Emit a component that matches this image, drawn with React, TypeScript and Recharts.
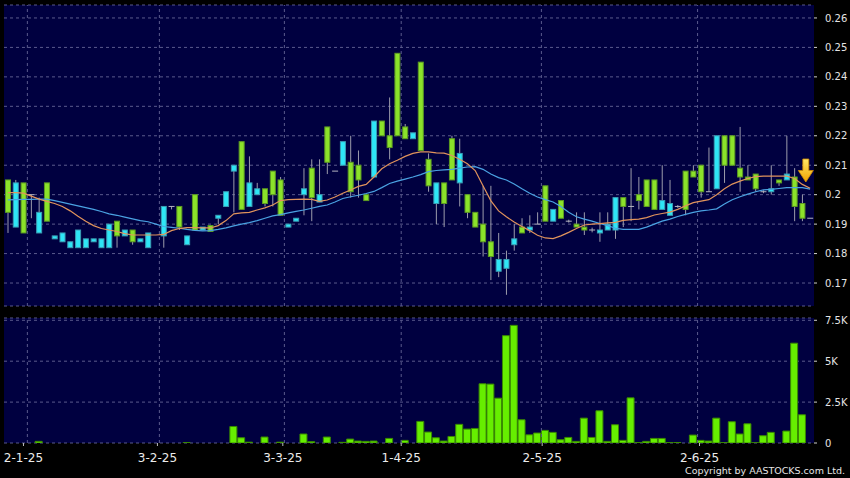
import React from 'react';
import {
  ComposedChart,
  Bar,
  Line,
  XAxis,
  YAxis,
  CartesianGrid,
  ReferenceLine,
  ReferenceDot,
} from 'recharts';

// ---- data ----
const dateLabels = ['2-1-25', '3-2-25', '3-3-25', '1-4-25', '2-5-25', '2-6-25'];
const dateLabelPos = [2.0, 19.2, 35.3, 50.5, 68.6, 88.8];
const dateGridPos = [2.5, 19.45, 35.5, 50.5, 68.5, 88.55];

const opens: (number | null)[] = [
  0.205, 0.189, 0.204, 0.2, 0.187, 0.204, 0.185, 0.184, 0.182, 0.182,
  0.182, 0.184, 0.182, 0.182, 0.191, 0.186, 0.188, 0.184, 0.182, null,
  0.186, 0.196, 0.196, 0.183, 0.2, 0.188, 0.1895, 0.192, 0.196, 0.208,
  0.218, 0.196, 0.2, 0.202, 0.208, 0.205, 0.189, 0.191, 0.2, 0.209,
  0.1975, 0.223, 0.208, 0.21, 0.211, 0.21, 0.2, 0.206, 0.225, 0.22,
  0.248, 0.223, 0.219, 0.245, 0.212, 0.197, 0.204, 0.219, 0.204, 0.2,
  0.194, 0.19, 0.184, 0.174, 0.175, 0.183, 0.189, 0.188, 0.19, 0.203,
  0.191, 0.198, 0.191, 0.19, 0.189, 0.188, 0.187, 0.188, 0.188, 0.199,
  0.196, 0.2, 0.205, 0.205, 0.195, 0.193, 0.196, 0.208, 0.208, 0.21,
  0.201, 0.202, 0.22, 0.22, 0.209, 0.206, 0.207, 0.201, 0.201, 0.205,
  0.205, 0.206, 0.197, 0.192,
];
const highs: (number | null)[] = [
  0.205, 0.205, 0.204, 0.2, 0.199, 0.204, 0.186, 0.187, 0.184, 0.188,
  0.185, 0.185, 0.185, 0.19, 0.191, 0.188, 0.188, 0.185, 0.187, null,
  0.196, 0.196, 0.196, 0.186, 0.2, 0.189, 0.1895, 0.193, 0.201, 0.21,
  0.218, 0.213, 0.204, 0.202, 0.208, 0.206, 0.19, 0.192, 0.209, 0.212,
  0.212, 0.223, 0.208, 0.218, 0.22, 0.215, 0.2, 0.225, 0.225, 0.233,
  0.248, 0.224, 0.221, 0.245, 0.214, 0.204, 0.204, 0.22, 0.219, 0.2,
  0.194, 0.203, 0.203, 0.187, 0.181, 0.19, 0.192, 0.193, 0.194, 0.203,
  0.195, 0.198, 0.1915, 0.194, 0.194, 0.1888, 0.194, 0.194, 0.199, 0.199,
  0.209, 0.206, 0.205, 0.205, 0.21, 0.205, 0.1965, 0.208, 0.21, 0.21,
  0.216, 0.22, 0.22, 0.22, 0.223, 0.21, 0.207, 0.2015, 0.21, 0.205,
  0.22, 0.209, 0.2, 0.192,
];
const lows: (number | null)[] = [
  0.187, 0.189, 0.187, 0.192, 0.187, 0.191, 0.185, 0.184, 0.182, 0.182,
  0.182, 0.184, 0.182, 0.182, 0.182, 0.186, 0.183, 0.184, 0.182, null,
  0.182, 0.195, 0.188, 0.183, 0.188, 0.188, 0.1875, 0.19, 0.196, 0.194,
  0.195, 0.196, 0.2, 0.196, 0.196, 0.193, 0.189, 0.191, 0.193, 0.191,
  0.1975, 0.207, 0.208, 0.21, 0.199, 0.199, 0.198, 0.206, 0.22, 0.212,
  0.22, 0.219, 0.219, 0.215, 0.201, 0.19, 0.189, 0.205, 0.196, 0.192,
  0.189, 0.179, 0.171, 0.172, 0.166, 0.181, 0.187, 0.187, 0.19, 0.191,
  0.191, 0.192, 0.1905, 0.189, 0.1863, 0.1872, 0.184, 0.188, 0.185, 0.189,
  0.191, 0.195, 0.196, 0.195, 0.195, 0.193, 0.1955, 0.193, 0.206, 0.199,
  0.201, 0.202, 0.204, 0.21, 0.201, 0.205, 0.201, 0.2005, 0.2, 0.203,
  0.205, 0.191, 0.191, 0.192,
];
const closes: (number | null)[] = [
  0.194, 0.204, 0.187, 0.2, 0.194, 0.191, 0.186, 0.187, 0.184, 0.188,
  0.185, 0.185, 0.185, 0.19, 0.186, 0.188, 0.184, 0.185, 0.187, null,
  0.196, 0.196, 0.189, 0.186, 0.188, 0.189, 0.1875, 0.193, 0.201, 0.21,
  0.195, 0.204, 0.202, 0.197, 0.2, 0.193, 0.19, 0.192, 0.202, 0.199,
  0.2, 0.211, 0.208, 0.218, 0.201, 0.205, 0.198, 0.225, 0.22, 0.216,
  0.22, 0.219, 0.221, 0.215, 0.203, 0.204, 0.197, 0.205, 0.214, 0.194,
  0.189, 0.184, 0.179, 0.178, 0.178, 0.185, 0.187, 0.189, 0.19, 0.191,
  0.195, 0.192, 0.191, 0.189, 0.188, 0.188, 0.188, 0.19, 0.199, 0.196,
  0.196, 0.198, 0.196, 0.195, 0.198, 0.197, 0.196, 0.195, 0.206, 0.201,
  0.201, 0.22, 0.21, 0.21, 0.206, 0.205, 0.202, 0.201, 0.202, 0.204,
  0.207, 0.196, 0.192, 0.192,
];
const maShort: number[] = [
  0.2007, 0.2007, 0.2005, 0.1995, 0.1985, 0.1977, 0.197, 0.196, 0.1945, 0.1927,
  0.191, 0.1895, 0.1885, 0.188, 0.1875, 0.1868, 0.1863, 0.1863, 0.1863, 0.1863,
  0.1865, 0.1878, 0.1885, 0.1888, 0.1888, 0.1887, 0.1887, 0.1895, 0.1912, 0.1935,
  0.1938, 0.194, 0.1948, 0.1955, 0.1965, 0.198, 0.1983, 0.1984, 0.1985, 0.1984,
  0.1977, 0.1982, 0.1992, 0.2005, 0.2016, 0.2028, 0.2035, 0.206, 0.2088, 0.2105,
  0.2117, 0.213, 0.214, 0.2145, 0.2145, 0.2142, 0.2141, 0.2133, 0.212, 0.2105,
  0.2082, 0.203, 0.198, 0.1945, 0.1925, 0.1907, 0.1892, 0.1878, 0.1862, 0.1853,
  0.1851, 0.186, 0.1872, 0.1885, 0.1897, 0.19, 0.1902, 0.1904, 0.1906, 0.1913,
  0.1915, 0.1917, 0.1922, 0.1931, 0.1936, 0.1941, 0.195, 0.1962, 0.1973, 0.1978,
  0.1983, 0.2, 0.202, 0.2036, 0.2046, 0.2055, 0.2061, 0.2063, 0.2063, 0.2063,
  0.2063, 0.2055, 0.2035, 0.2022,
];
const maLong: number[] = [
  0.1982, 0.1983, 0.1984, 0.1984, 0.1985, 0.1985, 0.198, 0.1974, 0.1968, 0.1962,
  0.1956, 0.195, 0.1943, 0.1935, 0.193, 0.1924, 0.1918, 0.1912, 0.1908, 0.19,
  0.1892, 0.1889, 0.1886, 0.1882, 0.1879, 0.1877, 0.1878, 0.1882, 0.1887, 0.1894,
  0.19, 0.1905, 0.1912, 0.192, 0.1928, 0.1932, 0.1938, 0.1943, 0.1948, 0.1954,
  0.196, 0.1965, 0.1975, 0.1987, 0.1993, 0.1998, 0.2004, 0.2011, 0.2024, 0.2038,
  0.2046, 0.2053, 0.206, 0.2068, 0.2078, 0.2082, 0.2084, 0.2086, 0.209, 0.2094,
  0.2095, 0.2086, 0.207, 0.2058, 0.205, 0.2036, 0.202, 0.2005, 0.1992, 0.1983,
  0.1975, 0.196, 0.194, 0.1925, 0.1917, 0.191, 0.1902, 0.1895, 0.1886, 0.1882,
  0.1882, 0.1882, 0.189, 0.19, 0.191, 0.1917, 0.1926, 0.1933, 0.194, 0.1945,
  0.1948, 0.1952, 0.1968, 0.1983, 0.1993, 0.2002, 0.201, 0.2016, 0.2018, 0.2021,
  0.2024, 0.2024, 0.2024, 0.2019,
];
const volumes: number[] = [
  0, 0, 0, 0, 100, 0, 0, 0, 0, 0,
  0, 0, 0, 0, 0, 0, 0, 0, 0, 0,
  0, 0, 0, 20, 0, 0, 0, 0, 0, 1010,
  320, 50, 0, 365, 0, 50, 0, 0, 550, 80,
  0, 365, 0, 40, 240, 120, 100, 120, 0, 280,
  0, 160, 0, 1320, 670, 320, 120, 400, 1140, 850,
  890, 3620, 3600, 2740, 6560, 7190, 1420, 500, 610, 770,
  650, 200, 340, 100, 1520, 340, 1970, 100, 1115, 160,
  2760, 20, 100, 280, 280, 20, 30, 0, 485, 160,
  120, 1520, 20, 1300, 550, 1175, 10, 445, 650, 0,
  730, 6100, 1725, 0,
];

const priceTicks = [0.17, 0.18, 0.19, 0.2, 0.21, 0.22, 0.23, 0.24, 0.25, 0.26];
const volTicks = [0, 2500, 5000, 7500];
const lastArrow = { x: 102.45, y: 0.2043 };

// ---- settings ----
const Y_MIN = 0.1622;
const Y_MAX = 0.2644;
const V_MAX = 7640;
const FONT = 'DejaVu Sans';
const PLOT_BG = '#000040';
const GRID = '#5a5a8c';
const GREEN = '#8be22a';
const GREEN_EDGE = '#5c9a22';
const CYAN = '#2ee6f6';
const CYAN_EDGE = '#3a9db4';
const WICK = '#9c9cab';

const data = opens.map((o, i) => ({
  i,
  o,
  h: highs[i],
  l: lows[i],
  c: closes[i],
  maS: maShort[i],
  maL: maLong[i],
  vol: volumes[i],
}));

const Candle = (props: any) => {
  const { x, y, width, height, payload } = props;
  if (!payload || payload.h == null || !height || height <= 0) return <g />;
  const k = height / (payload.h - Y_MIN);
  const py = (p: number) => y + (payload.h - p) * k;
  const cx = x + width / 2;
  const o = payload.o as number;
  const c = payload.c as number;
  const top = py(Math.max(o, c));
  const bot = py(Math.min(o, c));
  const wick = (
    <line x1={cx} x2={cx} y1={py(payload.h)} y2={py(payload.l)} stroke={WICK} strokeWidth={1} />
  );
  if (o === c) {
    return (
      <g>
        {wick}
        <line x1={x} x2={x + width} y1={top} y2={top} stroke="#b4b4c0" strokeWidth={1} />
      </g>
    );
  }
  const up = c > o;
  return (
    <g>
      {wick}
      <rect
        x={x + 0.5}
        y={top}
        width={width - 1}
        height={Math.max(bot - top, 1)}
        fill={up ? CYAN : GREEN}
        stroke={up ? CYAN_EDGE : GREEN_EDGE}
        strokeWidth={1}
      />
    </g>
  );
};

const Arrow = (props: any) => {
  const { cx, cy } = props;
  if (cx == null || cy == null) return <g />;
  return (
    <g>
      <defs>
        <linearGradient id="arrowGrad" x1="0" y1="0" x2="0" y2="1">
          <stop offset="0" stopColor="#ffe866" />
          <stop offset="1" stopColor="#f2a200" />
        </linearGradient>
      </defs>
      <path
        d={`M${cx - 3} ${cy - 23} H${cx + 3} V${cy - 11.5} H${cx + 7.5} L${cx} ${cy} L${cx - 7.5} ${cy - 11.5} H${cx - 3} Z`}
        fill="url(#arrowGrad)"
        stroke="#d08a00"
        strokeWidth={0.8}
      />
    </g>
  );
};

const fmtPrice = (v: number) => String(Number(v.toFixed(2)));
const fmtVol = (v: number) => (v === 0 ? '0' : `${v / 1000}K`);
const fmtDate = (v: number) => {
  const idx = dateLabelPos.indexOf(v);
  return idx >= 0 ? dateLabels[idx] : '';
};

const yTickStyle = { fill: '#e4e4e4', fontSize: 10, fontFamily: FONT };
const yTickLine = { stroke: '#cfcfcf', strokeDasharray: '0 4 3 40' };

export default function App() {
  return (
    <div
      style={{
        position: 'fixed',
        left: 0,
        top: 0,
        width: 850,
        height: 478,
        background: '#000000',
        overflow: 'hidden',
        fontFamily: FONT,
      }}
    >
      <div style={{ position: 'absolute', left: 0, top: 0 }}>
        <ComposedChart
          width={850}
          height={310}
          data={data}
          margin={{ top: 5, right: 0, left: 4, bottom: 4 }}
          barCategoryGap={0}
        >
          <CartesianGrid
            xAxisId="c"
            vertical={false}
            stroke={GRID}
            strokeDasharray="3 3"
            fill={PLOT_BG}
            fillOpacity={1}
          />
          <XAxis xAxisId="g" dataKey="i" type="number" domain={[-0.5, 103.5]} hide height={0} allowDataOverflow />
          <XAxis xAxisId="c" dataKey="i" type="category" hide height={0} />
          <YAxis
            orientation="right"
            width={36}
            domain={[Y_MIN, Y_MAX]}
            ticks={priceTicks}
            allowDataOverflow
            tickFormatter={fmtPrice}
            axisLine={false}
            tickLine={yTickLine}
            tickSize={7}
            tickMargin={4}
            tick={yTickStyle}
            interval={0}
          />
          {dateGridPos.map((p) => (
            <ReferenceLine key={p} xAxisId="g" x={p} stroke={GRID} strokeDasharray="3 3" />
          ))}
          <Line
            xAxisId="c"
            dataKey="maL"
            type="linear"
            stroke="#4aa2e2"
            strokeWidth={1.2}
            dot={false}
            isAnimationActive={false}
          />
          <Line
            xAxisId="c"
            dataKey="maS"
            type="linear"
            stroke="#e0935c"
            strokeWidth={1.2}
            dot={false}
            isAnimationActive={false}
          />
          <Bar
            xAxisId="c"
            dataKey={(d: any) => (d.h == null ? null : [Y_MIN, d.h])}
            barSize={6}
            shape={<Candle />}
            isAnimationActive={false}
          />
          <ReferenceDot
            xAxisId="g"
            x={lastArrow.x}
            y={lastArrow.y}
            shape={<Arrow />}
            ifOverflow="visible"
          />
        </ComposedChart>
      </div>
      <div style={{ position: 'absolute', left: 0, top: 310 }}>
        <ComposedChart
          width={850}
          height={168}
          data={data}
          margin={{ top: 8, right: 0, left: 4, bottom: 0 }}
          barCategoryGap={0}
        >
          <CartesianGrid
            xAxisId="c"
            vertical={false}
            stroke={GRID}
            strokeDasharray="3 3"
            fill={PLOT_BG}
            fillOpacity={1}
          />
          <XAxis
            xAxisId="g"
            dataKey="i"
            type="number"
            domain={[-0.5, 103.5]}
            allowDataOverflow
            ticks={dateLabelPos}
            interval={0}
            tickFormatter={fmtDate}
            height={35}
            axisLine={false}
            tickLine={{ stroke: '#bdbdbd', strokeDasharray: '0 3 3 40' }}
            tickSize={6}
            tickMargin={4}
            tick={{ fill: '#ececec', fontSize: 12, fontFamily: FONT }}
          />
          <XAxis xAxisId="c" dataKey="i" type="category" hide height={0} />
          <YAxis
            orientation="right"
            width={36}
            domain={[0, V_MAX]}
            ticks={volTicks}
            allowDataOverflow
            tickFormatter={fmtVol}
            axisLine={false}
            tickLine={yTickLine}
            tickSize={7}
            tickMargin={4}
            tick={yTickStyle}
            interval={0}
          />
          {dateGridPos.map((p) => (
            <ReferenceLine key={p} xAxisId="g" x={p} stroke={GRID} strokeDasharray="3 3" />
          ))}
          <Bar
            xAxisId="c"
            dataKey="vol"
            barSize={7}
            fill="#66ee00"
            stroke="#3a8a00"
            strokeWidth={1}
            isAnimationActive={false}
          />
        </ComposedChart>
      </div>
      <div
        style={{
          position: 'absolute',
          right: 5,
          top: 465,
          fontSize: 9.5,
          lineHeight: '12px',
          color: '#e6e6e6',
          fontFamily: FONT,
          whiteSpace: 'nowrap',
        }}
      >
        Copyright by AASTOCKS.com Ltd.
      </div>
    </div>
  );
}
